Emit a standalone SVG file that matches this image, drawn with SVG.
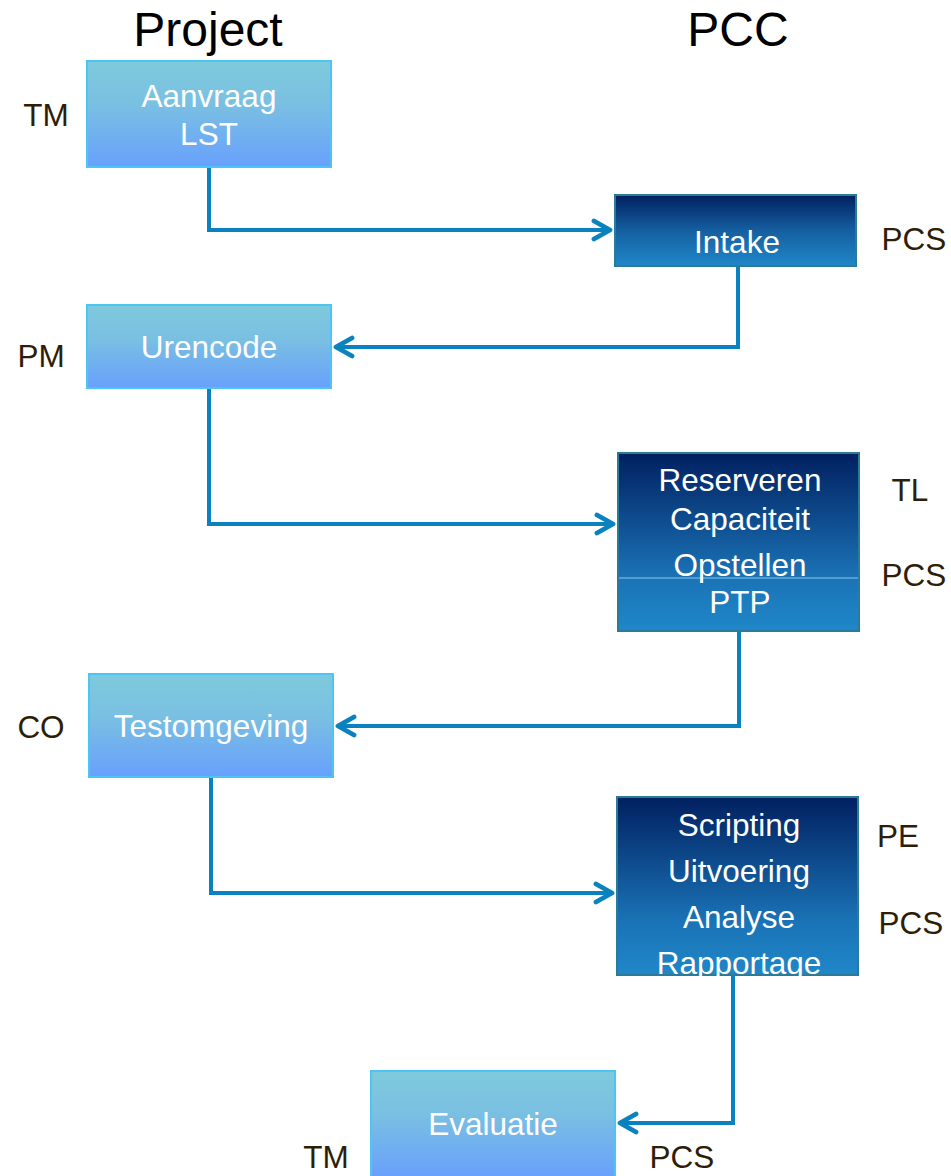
<svg xmlns="http://www.w3.org/2000/svg" width="951" height="1176" viewBox="0 0 951 1176">
<defs>
<linearGradient id="light" x1="0" y1="0" x2="0" y2="1">
<stop offset="0" stop-color="#7ecadc"/>
<stop offset="0.4" stop-color="#7ac0e2"/>
<stop offset="1" stop-color="#68a0fc"/>
</linearGradient>
<linearGradient id="dark" x1="0" y1="0" x2="0" y2="1">
<stop offset="0" stop-color="#012060"/>
<stop offset="0.5" stop-color="#155fa0"/>
<stop offset="1" stop-color="#1f87c8"/>
</linearGradient>
<linearGradient id="dark2" x1="0" y1="0" x2="0" y2="1">
<stop offset="0" stop-color="#012060"/>
<stop offset="0.7" stop-color="#1a73b6"/>
<stop offset="1" stop-color="#1f87c8"/>
</linearGradient>
<marker id="arr" viewBox="0 0 12 12" refX="10" refY="6" markerWidth="6" markerHeight="6" orient="auto" markerUnits="strokeWidth">
<polyline points="2,1.5 10,6 2,10.5" fill="none" stroke="#0a82c0" stroke-width="2.4" stroke-linecap="round" stroke-linejoin="round"/>
</marker>
</defs>
<style>
.lt{fill:url(#light);stroke:#4cc4f4;stroke-width:2}
.dk{stroke:#2a7a98;stroke-width:2}
.nt{font-family:"Liberation Sans",Arial,sans-serif;font-size:31.5px;fill:#ffffff;text-anchor:middle}
.lb{font-family:"Liberation Sans",Arial,sans-serif;font-size:31.5px;fill:#2e1e08;text-anchor:middle}
.hd{font-family:"Liberation Sans",Arial,sans-serif;font-size:48px;fill:#000000;text-anchor:middle}
.cn{fill:none;stroke:#0a82c0;stroke-width:4;stroke-linejoin:miter;marker-end:url(#arr)}
</style>
<rect width="951" height="1176" fill="#ffffff"/>
<text class="hd" x="208" y="46">Project</text>
<text class="hd" x="738" y="46">PCC</text>

<g id="connectors">
<path class="cn" d="M209,167 V230 H610"/>
<path class="cn" d="M738,266 V347 H336"/>
<path class="cn" d="M209,388 V524 H613"/>
<path class="cn" d="M739,631 V726 H338"/>
<path class="cn" d="M211,777 V893 H612"/>
<path class="cn" d="M733,975 V1123 H620"/>
</g>

<g id="aanvraag">
<rect class="lt" x="87" y="61" width="244" height="106"/>
<text class="nt" x="209" y="107">Aanvraag</text>
<text class="nt" x="209" y="145">LST</text>
</g>
<g id="intake">
<rect class="dk" fill="url(#dark)" x="615" y="195" width="241" height="71"/>
<text class="nt" x="737" y="253">Intake</text>
</g>
<g id="urencode">
<rect class="lt" x="87" y="305" width="244" height="83"/>
<text class="nt" x="209" y="358">Urencode</text>
</g>
<g id="reserveren">
<rect class="dk" fill="url(#dark2)" x="618" y="453" width="241" height="178"/>
<line x1="619" y1="578" x2="858" y2="578" stroke="#8ec6ea" stroke-width="1"/>
<text class="nt" x="740" y="491">Reserveren</text>
<text class="nt" x="740" y="530">Capaciteit</text>
<text class="nt" x="740" y="576">Opstellen</text>
<text class="nt" x="740" y="613">PTP</text>
</g>
<g id="testomgeving">
<rect class="lt" x="89" y="674" width="244" height="103"/>
<text class="nt" x="211" y="737">Testomgeving</text>
</g>
<g id="scripting">
<rect class="dk" fill="url(#dark2)" x="617" y="797" width="241" height="178"/>
<text class="nt" x="739" y="836">Scripting</text>
<text class="nt" x="739" y="882">Uitvoering</text>
<text class="nt" x="739" y="928">Analyse</text>
<text class="nt" x="739" y="974">Rapportage</text>
</g>
<g id="evaluatie">
<rect class="lt" x="371" y="1071" width="244" height="106"/>
<text class="nt" x="493" y="1135">Evaluatie</text>
</g>

<g id="labels">
<text class="lb" x="46" y="126">TM</text>
<text class="lb" x="914" y="250">PCS</text>
<text class="lb" x="41" y="367">PM</text>
<text class="lb" x="910" y="501">TL</text>
<text class="lb" x="914" y="586">PCS</text>
<text class="lb" x="41" y="738">CO</text>
<text class="lb" x="898" y="847">PE</text>
<text class="lb" x="911" y="934">PCS</text>
<text class="lb" x="326" y="1168">TM</text>
<text class="lb" x="682" y="1168">PCS</text>
</g>
</svg>
